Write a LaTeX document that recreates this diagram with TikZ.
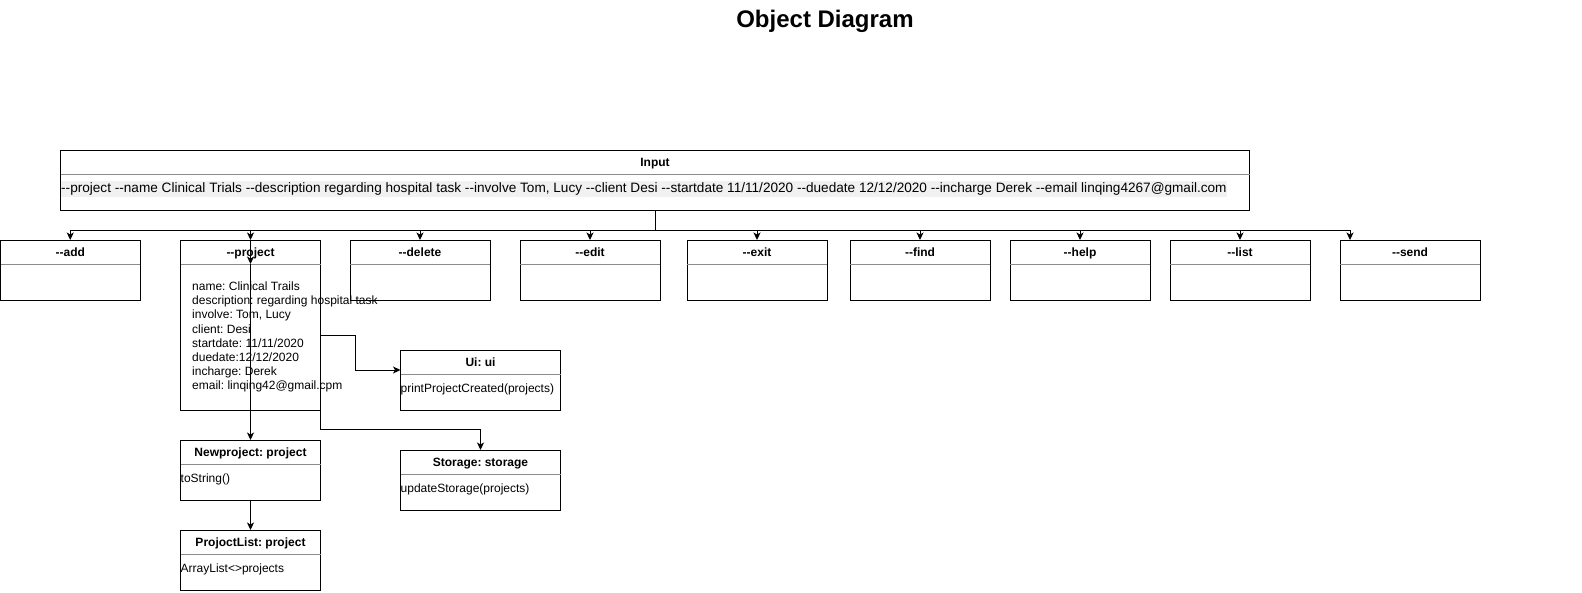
\documentclass[tikz,border=0pt]{standalone}
\usepackage{fontspec}
\setmainfont{Liberation Sans}[Ligatures=TeXOff]
\usetikzlibrary{arrows.meta}
\definecolor{hl}{HTML}{F1F1F1}
\frenchspacing
\newcommand\umlbox[6]{%
  \node[box, minimum width=#4pt, minimum height=#5pt] (#1) at (#2,#3) {};
  \node[hdr, anchor=base] (#1-t) at ([yshift=-16.9pt]#1.north) {#6};
  \coordinate (#1-d) at ([yshift=-24pt]#1.north);
  \draw[divider] ([yshift=-24pt]#1.north west) -- ([yshift=-24pt]#1.north east);
}
\begin{document}
\begin{tikzpicture}[x=1pt,y=-1pt,
  box/.style={draw=black, line width=1pt, inner sep=0pt, outer sep=0pt, rectangle, anchor=north west},
  hdr/.style={font=\fontsize{12}{14}\selectfont\bfseries\frenchspacing, inner sep=0pt},
  txt/.style={font=\fontsize{12}{14.1}\selectfont\frenchspacing, inner sep=0pt, anchor=west, align=left},
  divider/.style={draw=black!45, line width=1pt},
  arr/.style={draw, line width=1pt, -{Stealth[length=7.5pt,width=7pt,inset=2pt]}},
  link/.style={draw, line width=1pt}]
\useasboundingbox[fill=white] (0,0) rectangle (1582,592);

\node[font=\fontsize{24}{28}\selectfont\bfseries, inner sep=0pt] (title) at (825,21.5) {Object Diagram};

% input box
\umlbox{input}{60.5}{150}{1189}{60}{Input}
\node[txt, font=\fontsize{13.6}{16}\selectfont\frenchspacing, fill=hl, inner ysep=2pt, inner xsep=0.5pt] (input-text) at (60.5,189) {--project --name Clinical Trials --description regarding hospital task --involve Tom, Lucy --client Desi --startdate 11/11/2020 --duedate 12/12/2020 --incharge Derek --email linqing4267@gmail.com};

% command boxes
\umlbox{add}{0.5}{240}{139.5}{60}{--add}
\umlbox{project}{180.5}{240}{140}{170}{--project}
\umlbox{delete}{350}{240}{140}{60}{--delete}
\umlbox{edit}{520}{240}{140}{60}{--edit}
\umlbox{exit}{687}{240}{140}{60}{--exit}
\umlbox{find}{850}{240}{140}{60}{--find}
\umlbox{help}{1010}{240}{140}{60}{--help}
\umlbox{list}{1170}{240}{140}{60}{--list}
\umlbox{send}{1340}{240}{140}{60}{--send}

% object boxes
\umlbox{ui}{400.5}{350}{160}{60}{Ui: ui}
\umlbox{storage}{400.5}{450}{160}{60}{Storage: storage}
\umlbox{newproject}{180.5}{440}{140}{60}{Newproject: project}
\umlbox{projoctlist}{180.5}{530}{140}{60}{ProjoctList: project}

% texts
\node[txt] (project-attrs) at (192,337) {name: Clinical Trails\\description: regarding hospital task\\involve: Tom, Lucy\\client: Desi\\startdate: 11/11/2020\\duedate:12/12/2020\\incharge: Derek\\email: linqing42@gmail.cpm};
\node[txt] (ui-text) at (400.5,389.5) {printProjectCreated(projects)};
\node[txt] (storage-text) at (400.5,489.5) {updateStorage(projects)};
\node[txt] (newproject-text) at (180.5,479.5) {toString()};
\node[txt] (projoctlist-text) at (180.5,569.5) {ArrayList<>projects};

% bus edges
\foreach \b in {add,project,delete,edit,exit,find,help,list}
  \draw[arr] (input.south) -- ++(0,20) -| (\b.north);
\draw[arr] (input.south) -- ++(0,20) -| ([xshift=10pt]send.north west);

% project edges
\draw[arr] (project.north) -- (project-d);
\draw[arr] (project-d) -- (newproject.north);
\draw[arr] ([yshift=-95pt]project.north east) -- ++(35,0) |- ([yshift=-20pt]ui.north west);
\draw[arr] (project.south east) -- ++(0,19.5) -| (storage.north);
\draw[arr] (newproject.south) -- (projoctlist.north);
\end{tikzpicture}
\end{document}
